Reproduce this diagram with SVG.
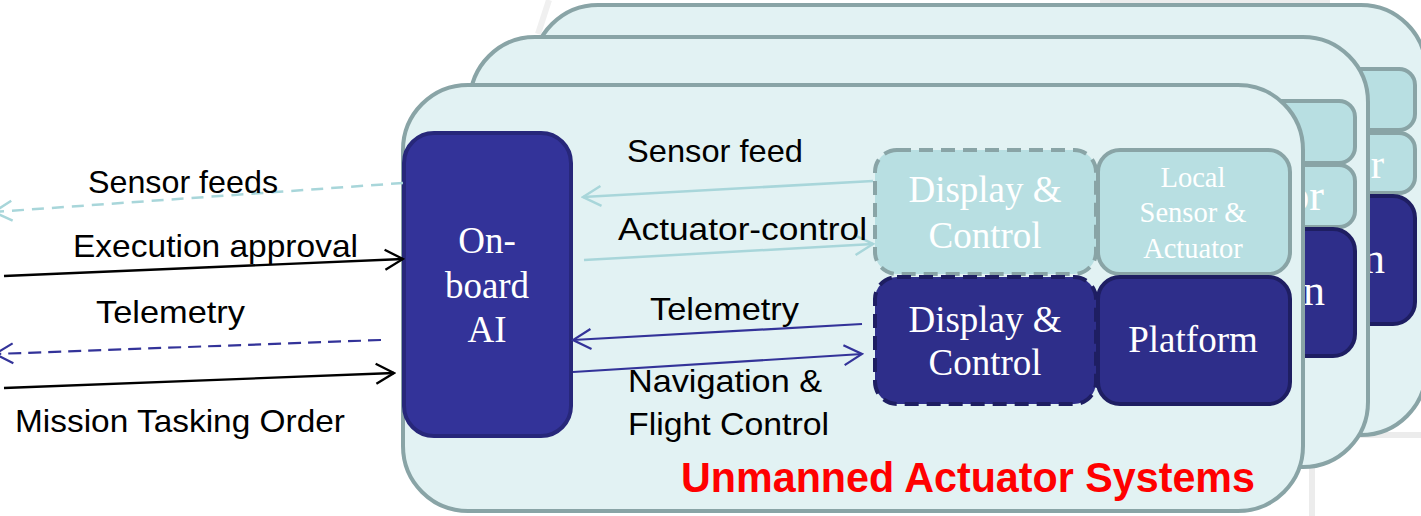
<svg xmlns="http://www.w3.org/2000/svg" width="1421" height="516" viewBox="0 0 1421 516">
  <style>
    .card{fill:#e2f2f3;stroke:#89a4a6;stroke-width:4}
    .lt{fill:#b8dfe2;stroke:#89a4a6;stroke-width:4}
    .dk{fill:#2e2e8a;stroke:#1e1e62;stroke-width:4}
    .dash{stroke-dasharray:14 8}
    .ai{fill:#333399;stroke:#27277a;stroke-width:4}
    .nt{font-family:"Liberation Serif","Times New Roman",serif;fill:#ffffff;text-anchor:middle}
    .frag{font-family:"Liberation Serif","Times New Roman",serif;fill:#ffffff;text-anchor:end}
    .lbl{font-family:"Liberation Sans",Arial,sans-serif;font-size:32px;fill:#000000}
    .title{font-family:"Liberation Sans",Arial,sans-serif;font-weight:bold;font-size:42px;fill:#ff0000}
    .bg{stroke:#ececec;fill:none}
    .k{stroke:#000000;stroke-width:2.3;fill:none}
    .b{stroke:#333399;stroke-width:2.2;fill:none}
    .t{stroke:#a8d6da;stroke-width:2.5;fill:none}
  </style>
  <defs>
    <marker id="ah-k" markerUnits="userSpaceOnUse" markerWidth="22" markerHeight="24" viewBox="0 0 22 24" refX="20" refY="12" orient="auto">
      <path d="M2,2 L20,12 L2,22" fill="none" stroke="#000000" stroke-width="2.3"/>
    </marker>
    <marker id="ah-b" markerUnits="userSpaceOnUse" markerWidth="22" markerHeight="24" viewBox="0 0 22 24" refX="20" refY="12" orient="auto">
      <path d="M2,2 L20,12 L2,22" fill="none" stroke="#333399" stroke-width="2.2"/>
    </marker>
    <marker id="ah-t" markerUnits="userSpaceOnUse" markerWidth="22" markerHeight="24" viewBox="0 0 22 24" refX="20" refY="12" orient="auto">
      <path d="M2,2 L20,12 L2,22" fill="none" stroke="#a8d6da" stroke-width="2.5"/>
    </marker>
  </defs>

  <!-- faint slide background strokes -->
  <g id="background">
    <line class="bg" x1="1312" y1="0" x2="1312" y2="516" stroke-width="6"/>
    <line class="bg" x1="1312" y1="435" x2="1421" y2="435" stroke-width="6"/>
    <line class="bg" x1="1100" y1="1.5" x2="1330" y2="1.5" stroke-width="3"/>
    <line x1="549" y1="0" x2="538" y2="34" stroke="#f0f0f0" stroke-width="6"/>
  </g>

  <!-- rear system card -->
  <g id="system-back">
    <rect class="card" x="533" y="5" width="893" height="430" rx="65"/>
    <rect class="lt" x="1222" y="69" width="193" height="61" rx="16"/>
    <rect class="lt" x="1222" y="133" width="193" height="60" rx="16"/>
    <rect class="dk" x="1222" y="196" width="193" height="128" rx="22"/>
    <text class="frag" x="1384" y="178" font-size="40">r</text>
    <text class="frag" x="1385" y="273" font-size="44">n</text>
  </g>

  <!-- middle system card -->
  <g id="system-middle">
    <rect class="card" x="470" y="37" width="898" height="430" rx="65"/>
    <rect class="lt" x="1162" y="101" width="193" height="62" rx="16"/>
    <rect class="lt" x="1162" y="165" width="193" height="62" rx="16"/>
    <rect class="dk" x="1162" y="229" width="193" height="127" rx="22"/>
    <text class="frag" x="1324" y="210" font-size="44">or</text>
    <text class="frag" x="1325" y="305" font-size="44">n</text>
  </g>

  <!-- front system card -->
  <g id="system-front">
    <rect class="card" x="403" y="85" width="900" height="426" rx="65"/>
    <text class="title" x="681" y="492" textLength="574" lengthAdjust="spacingAndGlyphs">Unmanned Actuator Systems</text>
  </g>

  <g id="onboard-ai">
    <rect class="ai" x="404" y="133" width="167" height="303" rx="30"/>
    <text class="nt" x="487" y="253" font-size="37">On-</text>
    <text class="nt" x="487" y="298" font-size="37">board</text>
    <text class="nt" x="487" y="342" font-size="37">AI</text>
  </g>

  <g id="display-control-sensor">
    <rect class="lt dash" x="875" y="150" width="221" height="124" rx="22"/>
    <text class="nt" x="985" y="202" font-size="37">Display &amp;</text>
    <text class="nt" x="985" y="248" font-size="37">Control</text>
  </g>

  <g id="local-sensor-actuator">
    <rect class="lt" x="1098" y="150" width="192" height="124" rx="22"/>
    <text class="nt" x="1193" y="187" font-size="28.5">Local</text>
    <text class="nt" x="1193" y="222" font-size="28.5">Sensor &amp;</text>
    <text class="nt" x="1193" y="258" font-size="28.5">Actuator</text>
  </g>

  <g id="display-control-flight">
    <rect class="dk dash" x="875" y="277" width="221" height="127" rx="22"/>
    <text class="nt" x="985" y="332" font-size="37">Display &amp;</text>
    <text class="nt" x="985" y="375" font-size="37">Control</text>
  </g>

  <g id="platform">
    <rect class="dk" x="1098" y="277" width="192" height="127" rx="22"/>
    <text class="nt" x="1193" y="352" font-size="37">Platform</text>
  </g>

  <!-- connectors and their labels -->
  <g id="connectors">
    <line class="t" x1="403" y1="183" x2="-6" y2="212" stroke-dasharray="12 8" marker-end="url(#ah-t)"/>
    <line class="k" x1="4" y1="276" x2="403" y2="259" marker-end="url(#ah-k)"/>
    <line class="b" x1="381" y1="340" x2="-5" y2="354" stroke-dasharray="13 7" marker-end="url(#ah-b)"/>
    <line class="k" x1="4" y1="388" x2="394" y2="373" marker-end="url(#ah-k)"/>

    <line class="t" x1="873" y1="181" x2="583" y2="197" marker-end="url(#ah-t)"/>
    <line class="t" x1="584" y1="260" x2="873" y2="244" marker-end="url(#ah-t)"/>
    <line class="b" x1="862" y1="324" x2="573" y2="340" marker-end="url(#ah-b)"/>
    <line class="b" x1="573" y1="372" x2="862" y2="354" marker-end="url(#ah-b)"/>

    <text class="lbl" x="88" y="193" textLength="190" lengthAdjust="spacingAndGlyphs">Sensor feeds</text>
    <text class="lbl" x="73" y="257" textLength="285" lengthAdjust="spacingAndGlyphs">Execution approval</text>
    <text class="lbl" x="96" y="323" textLength="149" lengthAdjust="spacingAndGlyphs">Telemetry</text>
    <text class="lbl" x="15" y="432" textLength="330" lengthAdjust="spacingAndGlyphs">Mission Tasking Order</text>

    <text class="lbl" x="627" y="162" textLength="176" lengthAdjust="spacingAndGlyphs">Sensor feed</text>
    <text class="lbl" x="618" y="240" textLength="249" lengthAdjust="spacingAndGlyphs">Actuator-control</text>
    <text class="lbl" x="650" y="320" textLength="149" lengthAdjust="spacingAndGlyphs">Telemetry</text>
    <text class="lbl" x="628" y="392" textLength="194" lengthAdjust="spacingAndGlyphs">Navigation &amp;</text>
    <text class="lbl" x="628" y="435" textLength="201" lengthAdjust="spacingAndGlyphs">Flight Control</text>
  </g>
</svg>
